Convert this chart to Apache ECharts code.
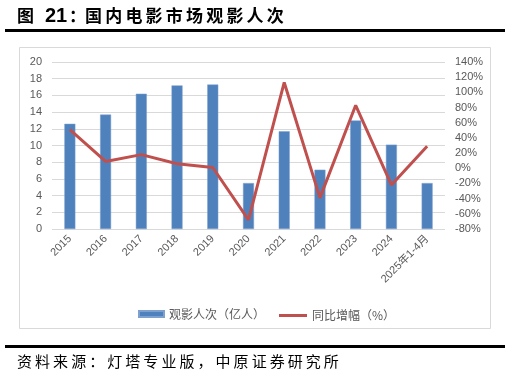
<!DOCTYPE html>
<html>
<head>
<meta charset="utf-8">
<script src="https://cdn.jsdelivr.net/npm/echarts@6/dist/echarts.min.js"></script>
<style>
  html, body { margin: 0; padding: 0; background: #fff; }
  #chart { width: 510px; height: 378px; }
</style>
</head>
<body>
<div id="chart"></div>
<script>
const years = ['2015', '2016', '2017', '2018', '2019', '2020', '2021', '2022', '2023', '2024', '2025年1-4月'];
const admissions = [12.6, 13.7, 16.2, 17.2, 17.3, 5.5, 11.7, 7.1, 13.0, 10.1, 5.5];
const yoyGrowth = [51, 9, 18, 6, 1, -68, 113, -39, 83, -22, 29];

// spaced-out text, one glyph per element
function spacedText(str, x0, pitch, yMid, font) {
  return str.split('').map(function(ch, i) {
    return {
      type: 'text', x: x0 + i * pitch, y: yMid,
      style: { text: ch, font: font, fill: '#000', verticalAlign: 'middle' }
    };
  });
}

document.addEventListener('DOMContentLoaded', function() {
  const chart = echarts.init(document.getElementById('chart'));
  const labelFont = 'Liberation Sans, Noto Sans CJK SC, sans-serif';
  const titleFont = 'bold 17px "Noto Sans CJK SC", sans-serif';
  const graphics = [
    { type: 'text', x: 17, y: 16, style: { text: '图', font: titleFont, fill: '#000', verticalAlign: 'middle' } },
    { type: 'text', x: 45, y: 16.5, style: { text: '21', font: 'bold 20px "Liberation Sans", sans-serif', fill: '#000', verticalAlign: 'middle' } },
    { type: 'text', x: 69, y: 16, style: { text: '：', font: titleFont, fill: '#000', verticalAlign: 'middle' } },
    { type: 'rect', shape: { x: 5, y: 29, width: 500, height: 3 }, style: { fill: '#000' } },
    { type: 'rect', shape: { x: 19.5, y: 47.5, width: 471, height: 281 }, style: { fill: 'none', stroke: '#d9d9d9', lineWidth: 1 } },
    { type: 'rect', shape: { x: 5, y: 345, width: 500, height: 3 }, style: { fill: '#000' } }
  ].concat(
    spacedText('国内电影市场观影人次', 85, 20.2, 16, titleFont),
    spacedText('资料来源：灯塔专业版，中原证券研究所', 17, 18.05, 361, '15px "Noto Sans CJK SC", sans-serif')
  );

  const option = {
    animation: false,
    backgroundColor: '#fff',
    graphic: graphics,
    legend: [
      {
        data: [{ name: '观影人次（亿人）', icon: 'rect' }],
        left: 133, top: 303, itemWidth: 25, itemHeight: 6, itemGap: 4,
        textStyle: { color: '#595959', fontSize: 12, fontFamily: 'Noto Sans CJK SC' }
      },
      {
        data: [{ name: '同比增幅（%）', icon: 'rect' }],
        left: 274, top: 304.5, itemWidth: 28, itemHeight: 3, itemGap: 4,
        textStyle: { color: '#595959', fontSize: 12, fontFamily: 'Noto Sans CJK SC' }
      }
    ],
    grid: { left: 52, right: 65, top: 62, bottom: 149 },
    xAxis: {
      type: 'category',
      data: years,
      axisLine: { show: false },
      axisTick: { show: false },
      axisLabel: { rotate: 45, color: '#595959', fontSize: 11, fontFamily: labelFont, margin: 8, interval: 0 }
    },
    yAxis: [
      {
        type: 'value', min: 0, max: 20, interval: 2,
        axisLine: { show: false }, axisTick: { show: false },
        axisLabel: { color: '#595959', fontSize: 11, fontFamily: labelFont, margin: 10 },
        splitLine: { lineStyle: { color: '#d9d9d9', width: 1 } }
      },
      {
        type: 'value', min: -80, max: 140, interval: 20,
        axisLine: { show: false }, axisTick: { show: false },
        axisLabel: { color: '#595959', fontSize: 11, fontFamily: labelFont, formatter: '{value}%', margin: 10 },
        splitLine: { show: false }
      }
    ],
    series: [
      {
        name: '观影人次（亿人）',
        type: 'bar',
        barWidth: 11,
        itemStyle: { color: '#4f81bd', borderColor: '#7da0cf', borderWidth: 0.5 },
        data: admissions
      },
      {
        name: '同比增幅（%）',
        type: 'line',
        yAxisIndex: 1,
        symbol: 'none',
        lineStyle: { color: '#c0504d', width: 3 },
        itemStyle: { color: '#c0504d' },
        data: yoyGrowth
      }
    ]
  };
  chart.setOption(option);
});
</script>
</body>
</html>
